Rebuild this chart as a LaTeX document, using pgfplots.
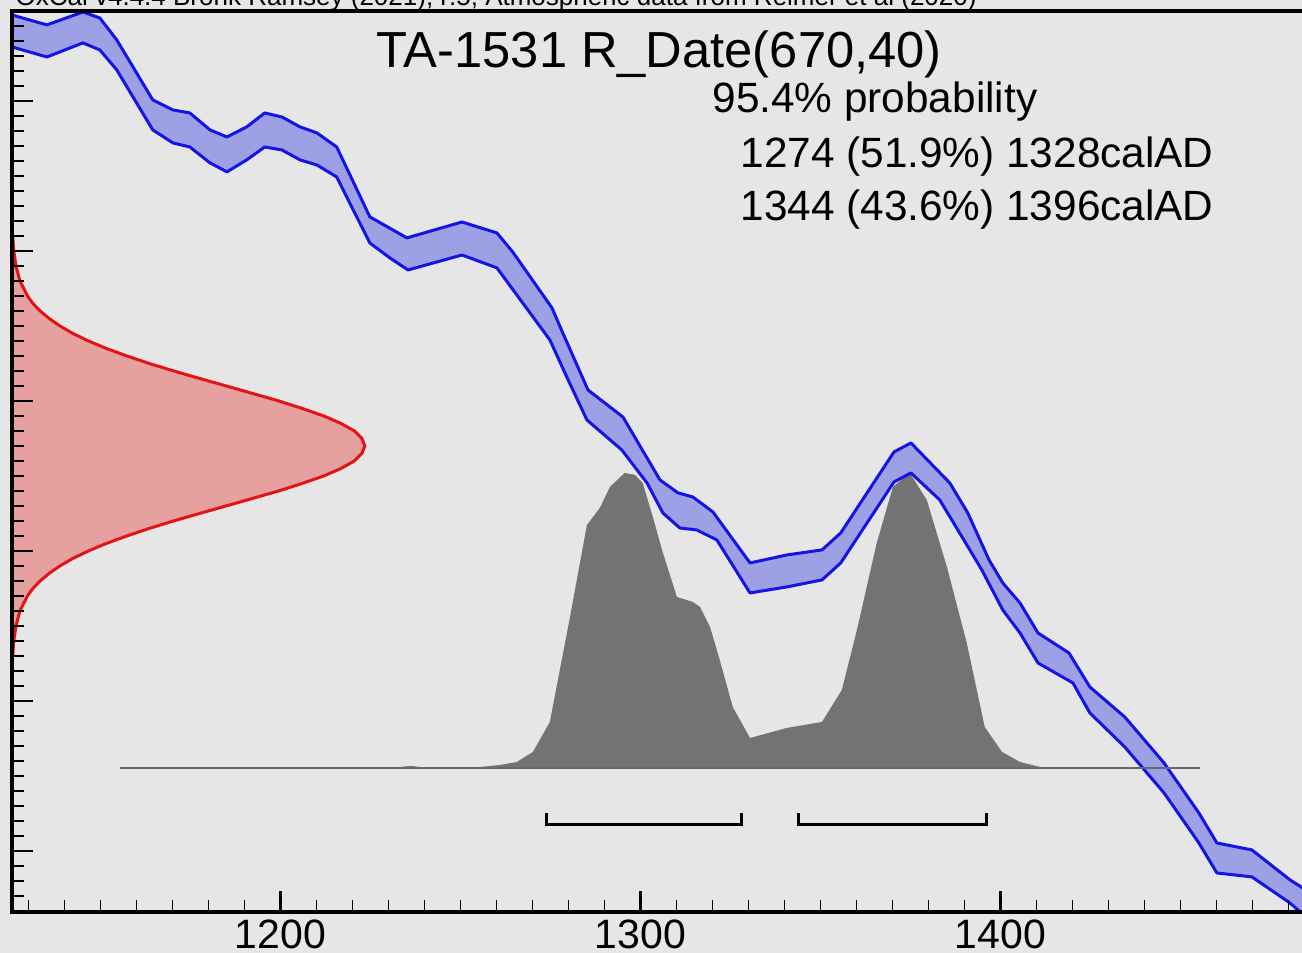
\documentclass[border=0pt]{standalone}
\usepackage{pgfplots}
\pgfplotsset{compat=1.18}
\usepackage{pgfplotstable}
\usepackage{fontspec}
\setmainfont{Liberation Sans}
\definecolor{bgc}{RGB}{230,230,230}
\definecolor{bandfill}{RGB}{157,160,228}
\definecolor{bandline}{RGB}{20,20,230}
\definecolor{redline}{RGB}{228,20,20}
\definecolor{redfill}{RGB}{230,160,160}
\definecolor{distfill}{RGB}{115,115,115}
\definecolor{baseln}{RGB}{105,105,105}

% calibration band: upper edge left->right, then lower edge right->left
\pgfplotstableread{
x y
1120 961.0
1125.4 957.3
1135.1 950.7
1145.1 959.3
1149.8 955.3
1154.5 940.7
1164.5 900.7
1170.1 894.0
1174.8 892.0
1180.4 880.7
1185.1 876.0
1190.6 882.7
1195.6 892.0
1200.4 889.3
1205.4 882.7
1210.1 878.7
1215.6 869.3
1224.8 822.7
1235.1 808.7
1250.4 819.3
1260.1 812.0
1264.5 799.3
1275.4 762.0
1278.4 745.3
1285.4 707.3
1295.1 689.3
1305.4 647.3
1310.4 638.7
1314.5 636.0
1320.1 626.0
1330.4 592.0
1340.6 597.3
1350.4 600.7
1355.6 612.0
1370.4 666.0
1375.1 672.0
1385.9 645.3
1390.9 625.3
1396.8 594.0
1400.6 578.7
1405.4 565.3
1410.4 545.3
1419.0 532.0
1424.8 509.3
1434.5 489.3
1445.4 458.7
1455.1 425.3
1460.1 405.3
1469.8 400.7
1480.4 380.7
1490 366
1490 345
1480.4 365.3
1469.8 382.7
1460.1 385.3
1455.1 405.3
1445.4 438.7
1434.5 469.3
1424.8 492.0
1420.1 512.0
1410.4 525.3
1405.4 545.3
1400.6 560.7
1394.8 587.3
1389.8 607.3
1383.1 634.0
1375.1 652.0
1370.4 646.0
1355.6 592.0
1350.4 580.7
1340.6 576.0
1330.4 572.0
1321.2 607.3
1315.6 614.0
1310.9 615.3
1306.2 625.3
1301.8 645.3
1294.8 667.3
1285.1 687.3
1279.5 716.0
1274.8 740.7
1260.1 788.7
1250.4 797.3
1235.4 787.3
1230.4 795.3
1224.8 805.3
1215.6 849.3
1210.1 857.3
1205.4 860.7
1200.4 867.3
1195.6 869.3
1190.6 860.7
1185.1 852.7
1180.4 858.7
1174.8 869.3
1170.1 872.0
1164.5 880.7
1154.5 920.7
1149.8 934.0
1145.1 938.7
1135.1 929.3
1125.4 936.0
1120 939.7
}\band

% radiocarbon determination 670 +/- 40 BP (x = year scale offset, y = BP)
\pgfplotstableread{
x y
1120 525
1125.6 530
1125.9 540
1126.5 550
1127.6 560
1129.7 570
1131.2 575
1133.2 580
1135.7 585
1138.7 590
1142.3 595
1146.6 600
1151.6 605
1157.3 610
1163.5 615
1170.3 620
1177.5 625
1184.9 630
1192.2 635
1199.5 640
1206.0 645
1212.0 650
1216.8 655
1220.5 660
1222.6 665
1223.4 670
1222.6 675
1220.5 680
1216.8 685
1212.0 690
1206.0 695
1199.5 700
1192.2 705
1184.9 710
1177.5 715
1170.3 720
1163.5 725
1157.3 730
1151.6 735
1146.6 740
1142.3 745
1138.7 750
1135.7 755
1133.2 760
1131.2 765
1129.7 770
1127.6 780
1126.5 790
1125.9 800
1125.6 810
1120 815
}\rdate

% calibrated probability distribution (baseline at 455.3)
\pgfplotstableread{
x y
1155.4 455.3
1230.4 455.3
1236.0 456.7
1241.5 455.3
1252.6 455.3
1260.9 457.3
1265.6 459.3
1270.1 466.0
1274.8 486.0
1280.4 556.0
1285.1 617.3
1288.7 628.7
1291.5 642.7
1295.6 652.0
1298.4 650.7
1300.6 645.3
1303.4 622.7
1306.2 598.7
1310.1 569.3
1314.5 566.0
1316.5 562.7
1319.3 549.3
1322.0 527.3
1325.6 496.0
1330.4 475.3
1340.6 482.0
1350.4 486.0
1355.9 507.3
1360.1 547.3
1365.6 605.3
1370.1 642.7
1374.8 652.0
1379.5 634.0
1385.1 589.3
1390.6 538.7
1395.6 482.7
1400.4 466.0
1405.4 459.3
1410.9 456.0
1416.5 455.3
1455.4 455.3
}\dist

\begin{document}
\begin{tikzpicture}
\path[use as bounding box, fill=bgc] (0,0) rectangle (390.6pt,285.9pt);
\clip (0,0) rectangle (390.6pt,285.9pt);
\node[anchor=base west, inner sep=0pt, font=\fontsize{7.8}{9}\selectfont] at (4.5pt,284.1pt)
  {OxCal v4.4.4 Bronk Ramsey (2021); r:5; Atmospheric data from Reimer et al (2020)};
\begin{axis}[
  at={(3.6pt,12.3pt)}, anchor=south west,
  x=1.08pt, y=0.45pt,
  xmin=1125.4, xmax=1495, ymin=359.3, ymax=960,
  axis on top,
  axis line style={line width=1.3pt, black},
  xtick={1200,1300,1400}, xticklabels={1200,1300,1400},
  minor xtick={1130,1140,...,1490},
  ytick={400,500,...,900}, yticklabels={},
  minor ytick={360,370,...,950},
  xtick pos=left, ytick pos=left,
  tick align=inside,
  major tick length=6.3pt, minor tick length=3.6pt,
  every tick/.style={black, line width=0.7pt},
  every minor tick/.append style={line width=0.5pt},
  xticklabel style={font=\fontsize{12.3}{14}\selectfont, inner sep=0pt, yshift=-2.1pt},
]
% radiocarbon date (red)
\addplot[fill=redfill, draw=none] table {\rdate};
\addplot[redline, line width=0.9pt] table {\rdate};
% calibrated distribution
\addplot[fill=distfill, draw=none] table {\dist};
% calibration curve band
\addplot[fill=bandfill, draw=bandline, line width=0.9pt, line join=round] table {\band};
% baseline
\addplot[baseln, line width=0.6pt] coordinates {(1155.4,455.3) (1455.4,455.3)};
% 95.4% range brackets
\addplot[black, line width=0.9pt] coordinates {(1274,425.3) (1274,417.3) (1328,417.3) (1328,425.3)};
\addplot[black, line width=0.9pt] coordinates {(1344,425.3) (1344,417.3) (1396,417.3) (1396,425.3)};
% texts
\node[anchor=base west, inner sep=0pt, font=\fontsize{15.2}{18}\selectfont] at (axis cs:1226.5,922) {TA-1531 R\_Date(670,40)};
\node[anchor=base west, inner sep=0pt, font=\fontsize{12.7}{15}\selectfont] at (axis cs:1319.8,892) {95.4\% probability};
\node[anchor=base west, inner sep=0pt, font=\fontsize{12.7}{15}\selectfont] at (axis cs:1327.6,855.3) {1274 (51.9\%) 1328calAD};
\node[anchor=base west, inner sep=0pt, font=\fontsize{12.7}{15}\selectfont] at (axis cs:1327.6,820) {1344 (43.6\%) 1396calAD};
\end{axis}
\end{tikzpicture}
\end{document}
